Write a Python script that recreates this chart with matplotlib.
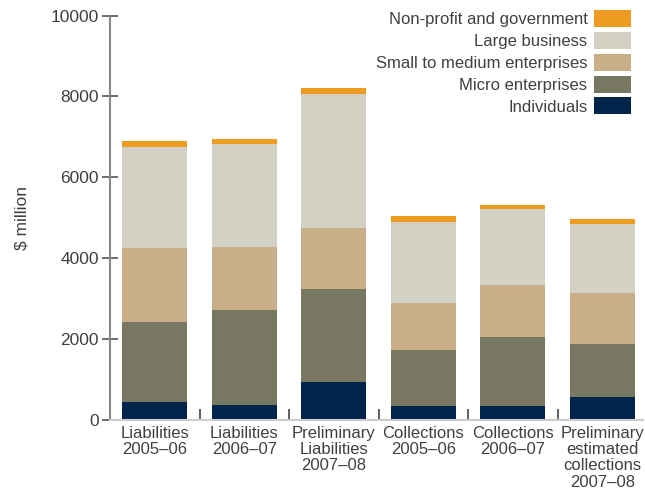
import matplotlib
matplotlib.use("Agg")
import matplotlib.pyplot as plt
import numpy as np

plt.rcParams['font.family'] = ['Liberation Sans', 'DejaVu Sans']

categories = ["Liabilities\n2005–06", "Liabilities\n2006–07", "Preliminary\nLiabilities\n2007–08",
              "Collections\n2005–06", "Collections\n2006–07", "Preliminary\nestimated\ncollections\n2007–08"]
individuals = [445, 371, 939, 346, 346, 569]
micro = [1978, 2348, 2300, 1385, 1706, 1310]
sme = [1829, 1558, 1508, 1161, 1285, 1261]
large = [2498, 2546, 3312, 2003, 1879, 1705]
nonprofit = [150, 124, 149, 148, 99, 124]

series = [("Individuals", individuals, "#00244A"),
          ("Micro enterprises", micro, "#777762"),
          ("Small to medium enterprises", sme, "#C8AE89"),
          ("Large business", large, "#D3D1C4"),
          ("Non-profit and government", nonprofit, "#EE9B22")]

txt = "#404040"
fig = plt.figure(figsize=(6.45, 4.93), dpi=100)
ax = fig.add_axes([0.1705, 0.148, 0.826, 0.8205])

x = np.arange(len(categories))
bottom = np.zeros(len(categories))
handles = []
for name, vals, col in series:
    b = ax.bar(x, vals, width=0.725, bottom=bottom, color=col, label=name, linewidth=0)
    handles.append(b)
    bottom += np.array(vals)

ax.set_xlim(-0.5, 5.45)
ax.set_ylim(0, 10000)
ax.set_yticks(np.arange(0, 10001, 2000))
ax.tick_params(axis='y', direction='inout', length=12, width=1.2, color="#555555",
               labelsize=12.5, labelcolor=txt, pad=2)
ax.set_xticks(x)
ax.set_xticklabels(categories, fontsize=12, color=txt, linespacing=1.12, va='top')
ax.tick_params(axis='x', length=0, pad=4)
ax.set_xticks(np.arange(0.5, 5.0, 1.0), minor=True)
ax.tick_params(axis='x', which='minor', direction='in', length=8, width=1.2, color="#444444")

for s in ['top', 'right']:
    ax.spines[s].set_visible(False)
ax.spines['left'].set_color("#888888")
ax.spines['left'].set_linewidth(1.5)
ax.spines['bottom'].set_color("#cccccc")
ax.spines['bottom'].set_linewidth(1.5)

ax.set_ylabel("$ million", fontsize=12.5, color=txt, labelpad=15)

leg = ax.legend(handles[::-1], [s[0] for s in series][::-1], loc='upper right',
                bbox_to_anchor=(0.99, 1.03), frameon=False, markerfirst=False,
                fontsize=12, handlelength=2.2, handleheight=1.2, handletextpad=0.4,
                labelspacing=0.28, borderaxespad=0)
for t in leg.get_texts():
    t.set_color(txt)

fig.savefig("out.png", dpi=100)
